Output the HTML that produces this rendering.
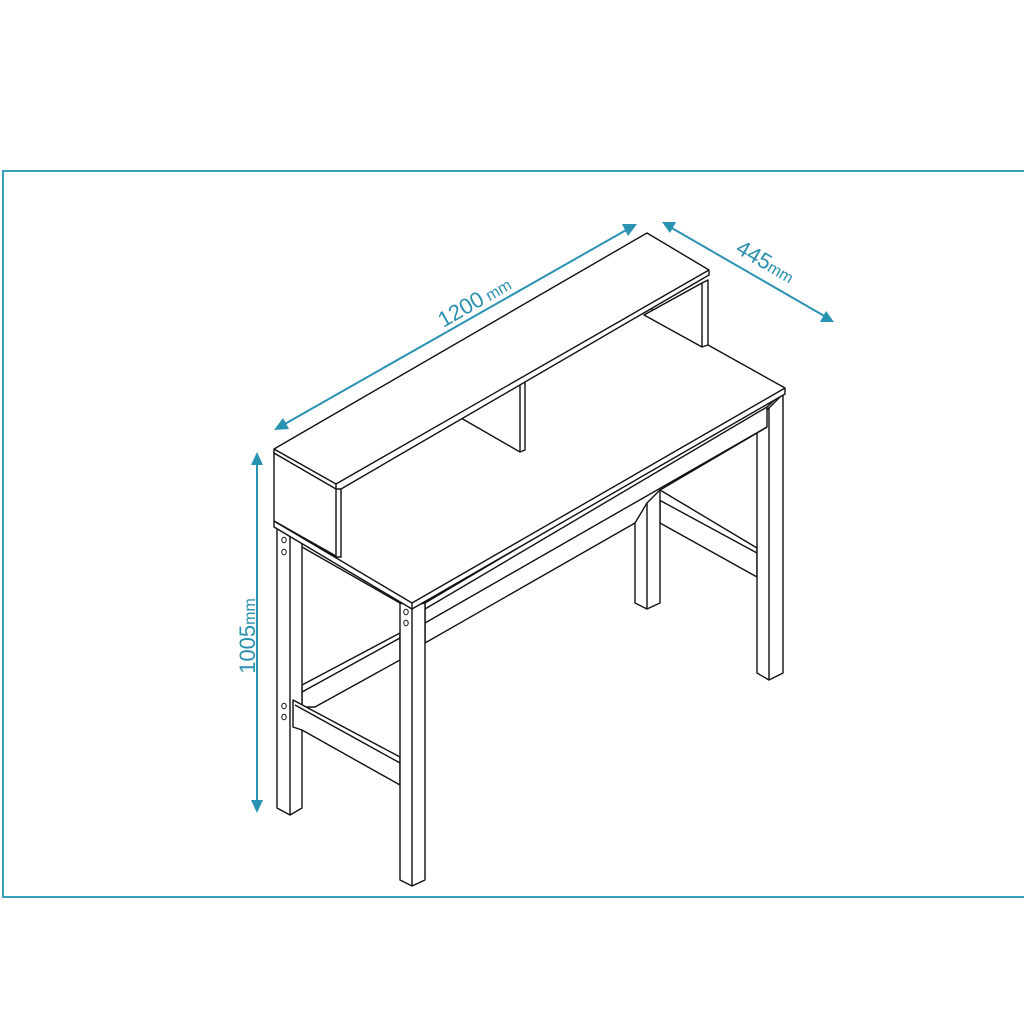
<!DOCTYPE html>
<html><head><meta charset="utf-8"><style>
html,body{margin:0;padding:0;background:#fff;width:1024px;height:1024px;overflow:hidden}
svg{display:block}
</style></head><body>
<svg width="1024" height="1024" viewBox="0 0 1024 1024" xmlns="http://www.w3.org/2000/svg">
<rect x="3" y="171" width="1030" height="726" fill="none" stroke="#3a9fb8" stroke-width="2"/>
<g fill="#fff" stroke="#111" stroke-width="1.4" stroke-linejoin="round">
<!-- right side stretcher -->
<polygon points="650,495 660,490 757,548 757,577 660,523 650,517"/>
<line x1="650" y1="495" x2="757" y2="553"/>
<line x1="660" y1="500" x2="660" y2="523"/>
<!-- right front leg -->
<polygon points="757,420 783,394 783,673 769,680 757,673"/>
<line x1="769" y1="407" x2="769" y2="680"/>
<!-- front apron -->
<polygon points="425,603 785,390 767,407 767,427 757,433 660,490 635,523 425,643"/>
<line x1="425" y1="609" x2="767" y2="407"/>
<line x1="425" y1="623" x2="767" y2="427"/>
<!-- back right leg -->
<polygon points="635,523 647,503 660,490 660,603 647,609 635,603"/>
<line x1="647" y1="503" x2="647" y2="609"/>
<!-- back stretcher left part -->
<polygon points="302,685 400,633 400,660 315,707 302,707"/>
<line x1="302" y1="692" x2="400" y2="638"/>
<!-- left back leg -->
<polygon points="277,527 302,541 302,808 290,815 277,808"/>
<line x1="290" y1="533" x2="290" y2="815"/>
<!-- left side stretcher -->
<polygon points="293,700 400,757 400,785 302,730 293,727"/>
<line x1="295" y1="705" x2="400" y2="763"/>
<!-- front leg -->
<polygon points="400,603 412,606 425,603 425,880 412,886 400,880"/>
<line x1="412" y1="606" x2="412" y2="886"/>
<!-- desk top -->
<polygon points="274,521 647,306 708,345 785,388 785,394 412,609 274,527"/>
<line x1="274" y1="521" x2="412" y2="603"/>
<line x1="412" y1="603" x2="785" y2="388"/>
<line x1="412" y1="603" x2="412" y2="609"/>
<line x1="302" y1="547" x2="400" y2="603"/>
<!-- hutch right panel -->
<polygon points="644,315 702,283 708,280 708,345 702,347"/>
<line x1="702" y1="283" x2="702" y2="347"/>
<!-- middle divider -->
<polygon points="461,418 520,384 525,381 525,450 520,452"/>
<line x1="520" y1="384" x2="520" y2="452"/>
<!-- hutch left panel -->
<polygon points="274,453 336,488 341,488 341,557 336,557 274,521"/>
<line x1="336" y1="488" x2="336" y2="557"/>
<line x1="274" y1="521" x2="336" y2="556"/>
<!-- hutch top -->
<polygon points="274,449 647,233 709,270 709,275 341,489 336,489 274,453"/>
<line x1="274" y1="449" x2="336" y2="484"/>
<line x1="336" y1="484" x2="709" y2="270"/>
<line x1="336" y1="484" x2="336" y2="489"/>
</g>
<g fill="#fff" stroke="#111" stroke-width="1">
<ellipse cx="284" cy="540" rx="2.2" ry="2.8"/><ellipse cx="284" cy="552" rx="2.2" ry="2.8"/>
<ellipse cx="284" cy="706" rx="2.2" ry="2.8"/><ellipse cx="284" cy="717" rx="2.2" ry="2.8"/>
<ellipse cx="406" cy="612" rx="2.2" ry="2.8"/><ellipse cx="406" cy="623" rx="2.2" ry="2.8"/>
</g>
<g stroke="#2a92b2" stroke-width="2" fill="#2a92b2">
<line x1="283" y1="425" x2="628" y2="229"/>
<polygon points="274,430 283,418 289,429" stroke="none"/>
<polygon points="637,224 622,224 628,236" stroke="none"/>
<line x1="670" y1="227" x2="826" y2="317"/>
<polygon points="662,222 676,222 670,233" stroke="none"/>
<polygon points="834,322 826,311 820,322" stroke="none"/>
<line x1="257" y1="462" x2="257" y2="803"/>
<polygon points="257,452 251,465 263,465" stroke="none"/>
<polygon points="257,813 251,800 263,800" stroke="none"/>
</g>
<g fill="#2a8fae" font-family="Liberation Sans, sans-serif">
<text transform="translate(478,308) rotate(-30)" text-anchor="middle" font-size="22">1200<tspan font-size="16"> mm</tspan></text>
<text transform="translate(762,268) rotate(30)" text-anchor="middle" font-size="22">445<tspan font-size="16">mm</tspan></text>
<text transform="translate(255,636) rotate(-90)" text-anchor="middle" font-size="22">1005<tspan font-size="16">mm</tspan></text>
</g>
</svg>
</body></html>
